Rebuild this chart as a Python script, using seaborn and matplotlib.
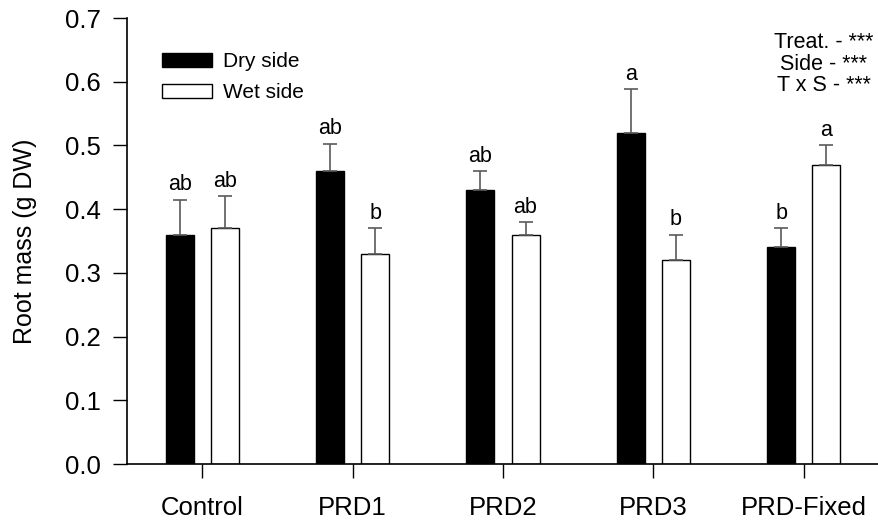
#!/usr/bin/env python3

import numpy as np
import pandas as pd
from matplotlib import pyplot as plt
from matplotlib.patches import Patch
import seaborn as sns


treatments = ["Control", "PRD1", "PRD2", "PRD3", "PRD-Fixed"]
sides = ["Dry side", "Wet side"]
dry_mass = [0.36, 0.46, 0.43, 0.52, 0.34]
wet_mass = [0.37, 0.33, 0.36, 0.32, 0.47]
dry_err = [0.055, 0.043, 0.03, 0.068, 0.03]
wet_err = [0.05, 0.04, 0.02, 0.04, 0.03]
dry_letters = ["ab", "ab", "ab", "a", "b"]
wet_letters = ["ab", "b", "ab", "b", "a"]
stats_lines = ["Treat. - ***", "Side - ***", "T x S - ***"]
y_ticks = [0.0, 0.1, 0.2, 0.3, 0.4, 0.5, 0.6, 0.7]

treat_title = "Treatment"
side_title = "Side"
mass_title = "Root mass (g DW)"


def get_df():
    return pd.DataFrame({
        treat_title: treatments * 2,
        side_title: [sides[0]] * len(treatments) + [sides[1]] * len(treatments),
        mass_title: dry_mass + wet_mass,
    })


def main():
    sns.set_theme(style="ticks", rc={
        "text.color": "black", "axes.labelcolor": "black",
        "xtick.color": "black", "ytick.color": "black",
        "axes.edgecolor": "black",
    })
    plt.rcParams["font.family"] = ["Liberation Sans", "DejaVu Sans"]

    fig = plt.figure(figsize=(8.79, 5.27), dpi=100)
    ax = fig.add_axes([127 / 879, 1 - 464 / 527, 752 / 879, 446 / 527])

    sns.barplot(
        data=get_df(), x=treat_title, y=mass_title, hue=side_title,
        order=treatments, hue_order=sides,
        palette={sides[0]: "black", sides[1]: "white"},
        edgecolor="black", linewidth=1.0, saturation=1,
        width=0.6, gap=0.38, errorbar=None, legend=False, ax=ax,
    )

    errs = [dry_err, wet_err]
    letters = [dry_letters, wet_letters]
    for cont, err, lab in zip(ax.containers, errs, letters):
        xs = np.array([b.get_x() + b.get_width() / 2 for b in cont])
        hs = np.array([b.get_height() for b in cont])
        err = np.array(err)
        ax.errorbar(xs, hs, yerr=[np.zeros_like(err), err], fmt="none",
                    ecolor="#5a5a5a", elinewidth=1.2, capsize=5,
                    capthick=1.2, zorder=3)
        for x, top, txt in zip(xs, hs + err, lab):
            ax.annotate(txt, (x, top), xytext=(0, 3), textcoords="offset points",
                        ha="center", va="bottom", fontsize=15.5, color="black")

    ax.set_xlim(-0.5, 4.5)
    ax.set_ylim(0, 0.7)
    ax.set_yticks(y_ticks)
    ax.set_yticklabels([f"{t:.1f}" for t in y_ticks])
    ax.set_xlabel("")
    ax.set_ylabel(mass_title, fontsize=18, labelpad=20, color="black")
    ax.tick_params(axis="both", length=10, width=1, labelsize=18.5,
                   color="black", labelcolor="black")
    ax.tick_params(axis="y", pad=9)
    ax.tick_params(axis="x", pad=13)
    sns.despine(ax=ax)
    for s in ["left", "bottom"]:
        ax.spines[s].set_linewidth(1.2)
        ax.spines[s].set_color("black")

    handles = [Patch(facecolor="black", edgecolor="black", linewidth=1),
               Patch(facecolor="white", edgecolor="black", linewidth=1)]
    fig.legend(handles, sides, loc="upper left",
               bbox_to_anchor=(162 / 879, 1 - 52 / 527), frameon=False,
               fontsize=15, handlelength=2.4, handleheight=0.65,
               handletextpad=0.55, labelspacing=0.6, borderpad=0,
               borderaxespad=0, labelcolor="black")

    for i, line in enumerate(stats_lines):
        fig.text(824 / 879, 1 - (48 + 21.5 * i) / 527, line, ha="center",
                 va="baseline", fontsize=15.5, color="black")

    fig.savefig("out.png", dpi=100)


if __name__ == "__main__":
    main()
